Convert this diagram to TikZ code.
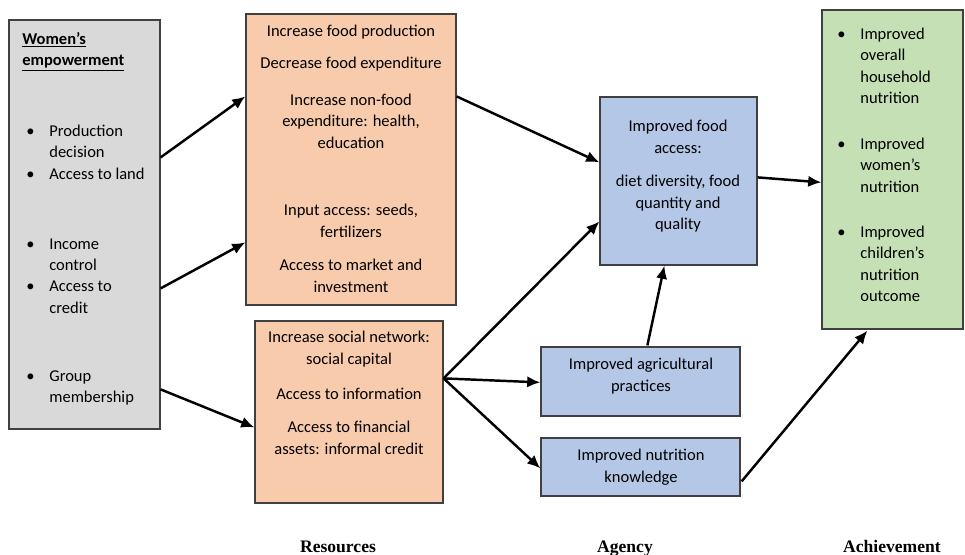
\documentclass[tikz,border=0pt]{standalone}
\usepackage{fontspec}
\setmainfont{Carlito}
\newfontfamily\headfont{Liberation Serif}
\usetikzlibrary{arrows.meta,fit,calc}

\definecolor{empgray}{RGB}{217,217,217}
\definecolor{resorange}{RGB}{248,203,173}
\definecolor{agblue}{RGB}{180,199,231}
\definecolor{achgreen}{RGB}{197,224,180}

\tikzset{
    box/.style={draw=black!75, line width=0.7pt, inner sep=0pt},
    txt/.style={font=\fontsize{9.4}{12.2}\selectfont, align=center, inner sep=0pt},
    ltxt/.style={font=\fontsize{9.4}{12.2}\selectfont, align=left, anchor=west, inner sep=0pt},
    flow/.style={-{Latex[length=7.5pt,width=6.5pt]}, line width=1.4pt},
    stage/.style={font=\headfont\bfseries\fontsize{10}{12}\selectfont, inner sep=0pt, anchor=base}
}
\newcommand{\bul}{\makebox[0.46cm][l]{\textbullet}}
\newcommand{\nobul}{\hspace*{0.46cm}}

\begin{document}
\begin{tikzpicture}[x=0.02cm, y=-0.02cm]
    \useasboundingbox (0,0) rectangle (965,555);

    % Women's empowerment
    \node[box, fill=empgray, fit={(9,20) (160,429)}] (emp) {};
    \node[ltxt] (empTitle) at (22,52) {\textbf{\underline{Women's}}\\\textbf{\underline{empowerment}}};
    \node[ltxt] (empA) at (26,152) {\bul Production\\\nobul decision\\\bul Access to land};
    \node[ltxt] (empB) at (26,276) {\bul Income\\\nobul control\\\bul Access to\\\nobul credit};
    \node[ltxt] (empC) at (26,388) {\bul Group\\\nobul membership};

    % Resources
    \node[box, fill=resorange, fit={(246,14) (456,305)}] (res1) {};
    \node[txt] (res1a) at (351,32) {Increase food production};
    \node[txt] (res1b) at (351,64) {Decrease food expenditure};
    \node[txt] (res1c) at (351,121) {Increase non-food\\expenditure: health,\\education};
    \node[txt] (res1d) at (351,221) {Input access: seeds,\\fertilizers};
    \node[txt] (res1e) at (351,276) {Access to market and\\investment};

    \node[box, fill=resorange, fit={(255,321) (443,503)}] (res2) {};
    \node[txt] (res2a) at (349,349) {Increase social network:\\social capital};
    \node[txt] (res2b) at (349,394) {Access to information};
    \node[txt] (res2c) at (349,438) {Access to financial\\assets: informal credit};

    % Agency
    \node[box, fill=agblue, fit={(600,97) (757,265)}] (food) {};
    \node[txt] (fooda) at (678,137) {Improved food\\access:};
    \node[txt] (foodb) at (678,204) {diet diversity, food\\quantity and\\quality};

    \node[box, fill=agblue, fit={(541,347) (740,416)}] (agri) {};
    \node[txt] (agria) at (641,376) {Improved agricultural\\practices};

    \node[box, fill=agblue, fit={(541,438) (740,496)}] (nutk) {};
    \node[txt] (nutka) at (641,467) {Improved nutrition\\knowledge};

    % Achievement
    \node[box, fill=achgreen, fit={(822,10) (963,329)}] (ach) {};
    \node[ltxt] (acha) at (837,66) {\bul Improved\\\nobul overall\\\nobul household\\\nobul nutrition};
    \node[ltxt] (achb) at (837,165) {\bul Improved\\\nobul women's\\\nobul nutrition};
    \node[ltxt] (achc) at (837,264) {\bul Improved\\\nobul children's\\\nobul nutrition\\\nobul outcome};

    % Connectors
    \coordinate (hub) at ($(res2.north east)+(0,58)$);
    \draw[flow] ($(emp.north east)+(0,138)$) -- ($(res1.north west)+(0,83)$);
    \draw[flow] ($(emp.north east)+(0,269)$) -- ($(res1.north west)+(0,229)$);
    \draw[flow] ($(emp.north east)+(0,370)$) -- ($(res2.north west)+(0,107)$);
    \draw[flow] ($(res1.north east)+(0,83)$) -- ($(food.north west)+(0,66)$);
    \draw[flow] (hub) -- ($(food.north west)+(0,125)$);
    \draw[flow] (hub) -- ($(agri.north west)+(0,36)$);
    \draw[flow] (hub) -- ($(nutk.north west)+(0,31)$);
    \draw[flow] ($(agri.north west)+(107,-1)$) -- ($(food.south west)+(65,0)$);
    \draw[flow] ($(food.north east)+(0,81)$) -- ($(ach.north west)+(0,173)$);
    \draw[flow] ($(nutk.north east)+(1,44)$) -- ($(ach.south west)+(46,1)$);

    % Stages
    \node[stage] (resLbl) at (338,552) {Resources};
    \node[stage] (agLbl) at (625,552) {Agency};
    \node[stage] (achLbl) at (892,552) {Achievement};
\end{tikzpicture}
\end{document}
